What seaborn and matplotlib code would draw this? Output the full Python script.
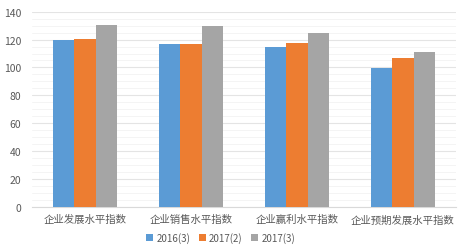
import matplotlib
matplotlib.use("Agg")
import matplotlib.pyplot as plt
import seaborn as sns
import pandas as pd
from matplotlib.ticker import MultipleLocator

categories = ["企业发展水平指数", "企业销售水平指数", "企业赢利水平指数", "企业预期发展水平指数"]
series_names = ["2016(3)", "2017(2)", "2017(3)"]
s2016_3 = [120.0, 117.0, 114.6, 99.3]
s2017_2 = [120.7, 116.8, 117.4, 106.6]
s2017_3 = [130.6, 129.5, 125.0, 111.4]
colors = ["#5B9BD5", "#ED7D31", "#A5A5A5"]

rows = []
for name, vals in zip(series_names, [s2016_3, s2017_2, s2017_3]):
    for c, v in zip(categories, vals):
        rows.append({"cat": c, "series": name, "value": v})
df = pd.DataFrame(rows)

sns.set_theme(style="white")
plt.rcParams['font.family'] = ['Noto Sans CJK SC', 'DejaVu Sans']

fig = plt.figure(figsize=(4.72, 2.51), dpi=100)
ax = fig.add_axes([0.068, 0.17, 0.898, 0.78])
sns.barplot(data=df, x="cat", y="value", hue="series", palette=colors,
            width=0.6, saturation=1, ax=ax, legend=True, zorder=3,
            linewidth=0, edgecolor="none")

ax.set_ylim(0, 140)
ax.yaxis.set_major_locator(MultipleLocator(20))
ax.yaxis.set_minor_locator(MultipleLocator(5))
ax.grid(axis="y", which="major", color="#E4E4E4", linewidth=0.8, zorder=0)
ax.grid(axis="y", which="minor", color="#F2F2F2", linewidth=0.6, zorder=0)
ax.set_axisbelow(True)
for s in ["top", "right", "left"]:
    ax.spines[s].set_visible(False)
ax.spines["bottom"].set_color("#D9D9D9")
ax.spines["bottom"].set_linewidth(0.8)
ax.set_xlabel("")
ax.set_ylabel("")
ax.tick_params(axis="both", length=0, colors="#595959", labelsize=7.5)
ax.tick_params(axis="x", pad=5)
ax.tick_params(axis="y", pad=8)
ax.set_xlim(-0.5, 3.5)

handles, labels = ax.get_legend_handles_labels()
ax.legend(handles, labels, loc="upper center", bbox_to_anchor=(0.445, -0.08),
          ncol=3, frameon=False, fontsize=7, handlelength=0.7, handleheight=0.7,
          handletextpad=0.35, columnspacing=0.9, labelcolor="#595959")

fig.savefig("out.png", dpi=100)
